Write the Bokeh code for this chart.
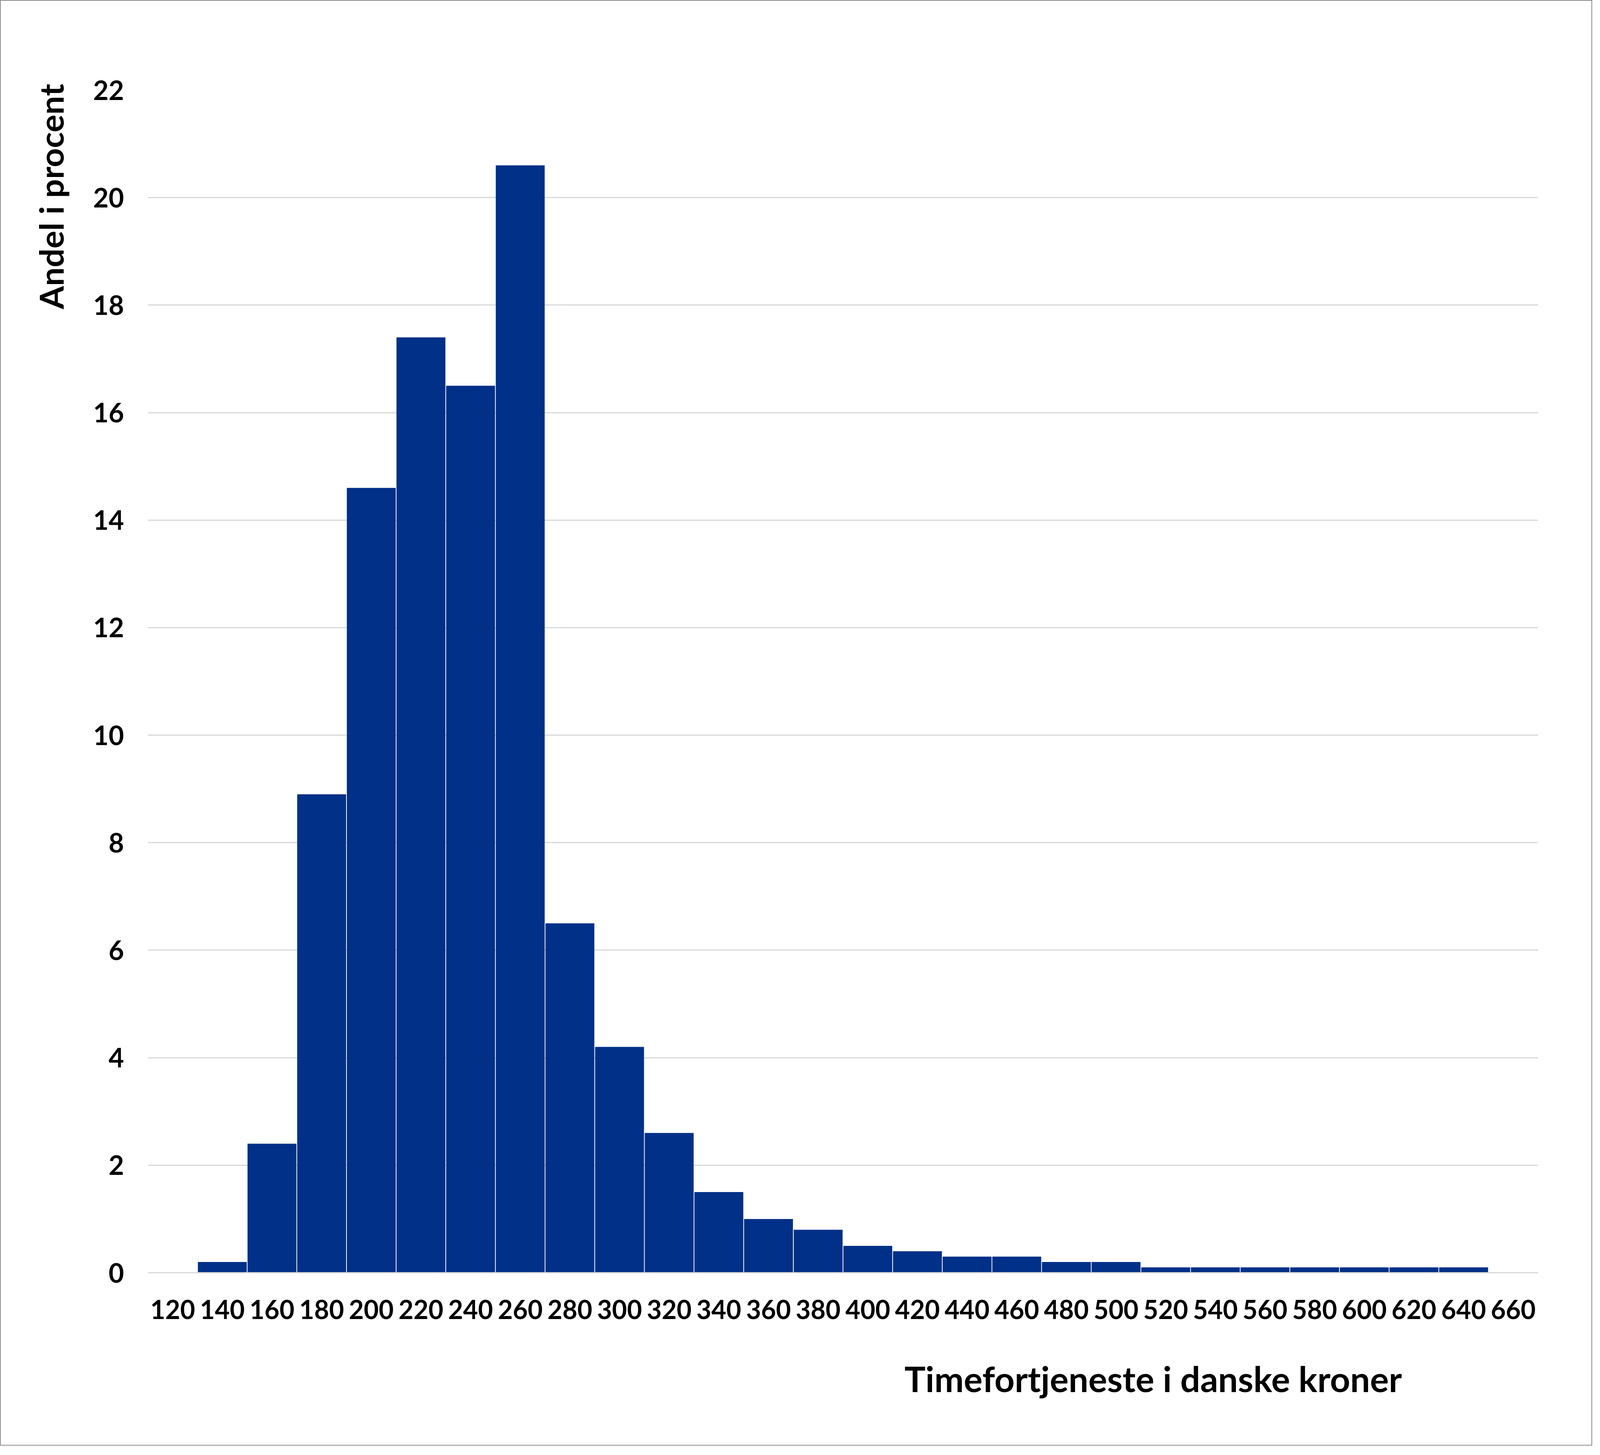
from bokeh.plotting import figure
from bokeh.models import FactorRange, Range1d, FixedTicker, Title
from bokeh.embed import file_html
from bokeh.resources import INLINE

# Data
categories = ["120", "140", "160", "180", "200", "220", "240", "260", "280", "300",
              "320", "340", "360", "380", "400", "420", "440", "460", "480", "500",
              "520", "540", "560", "580", "600", "620", "640", "660"]
shares = [0.0, 0.2, 2.4, 8.9, 14.6, 17.4, 16.5, 20.6, 6.5, 4.2,
          2.6, 1.5, 1.0, 0.8, 0.5, 0.4, 0.3, 0.3, 0.2, 0.2,
          0.1, 0.1, 0.1, 0.1, 0.1, 0.1, 0.1, 0.0]
y_ticks = [0, 2, 4, 6, 8, 10, 12, 14, 16, 18, 20, 22]
y_label = "Andel i procent"
x_label = "Timefortjeneste i danske kroner"

BAR_COLOR = "#003087"
GRID_COLOR = "#d9d9d9"
FONT = "Lato"

p = figure(
    width=4076, height=3700,
    x_range=FactorRange(factors=categories),
    y_range=Range1d(0, 22),
    output_backend="svg", toolbar_location=None,
    min_border_left=376, min_border_right=141,
    min_border_top=228, min_border_bottom=445,
)
p.styles = {"border": "2px solid #8c8c8c"}
p.outline_line_color = None
p.background_fill_color = "white"
p.border_fill_color = "white"

p.vbar(x=categories, top=shares, width=0.985, fill_color=BAR_COLOR, line_color=None)

# grid
p.xgrid.grid_line_color = None
p.ygrid.ticker = FixedTicker(ticks=y_ticks)
p.ygrid.grid_line_color = GRID_COLOR
p.ygrid.grid_line_width = 3

# y axis
p.yaxis.ticker = FixedTicker(ticks=y_ticks)
p.yaxis.axis_line_color = None
p.yaxis.major_tick_line_color = None
p.yaxis.minor_tick_line_color = None
p.yaxis.major_label_standoff = 55
p.yaxis.major_label_text_font = FONT
p.yaxis.major_label_text_font_style = "bold"
p.yaxis.major_label_text_font_size = "68px"
p.yaxis.major_label_text_color = "black"

# x axis
p.xaxis.axis_line_color = GRID_COLOR
p.xaxis.axis_line_width = 3
p.xaxis.major_tick_line_color = None
p.xaxis.minor_tick_line_color = None
p.xaxis.major_label_standoff = 63
p.xaxis.major_label_text_font = FONT
p.xaxis.major_label_text_font_style = "bold"
p.xaxis.major_label_text_font_size = "66px"
p.xaxis.major_label_text_color = "black"

ty = Title(text=y_label, align="right", offset=-16, standoff=110, text_font=FONT,
           text_font_style="bold", text_font_size="85px", text_color="black")
p.add_layout(ty, "left")

tx = Title(text=x_label, align="left", offset=1937, standoff=186, text_font=FONT,
           text_font_style="bold", text_font_size="90px", text_color="black")
p.add_layout(tx, "below")

open("out.html", "w").write(file_html(p, INLINE))
